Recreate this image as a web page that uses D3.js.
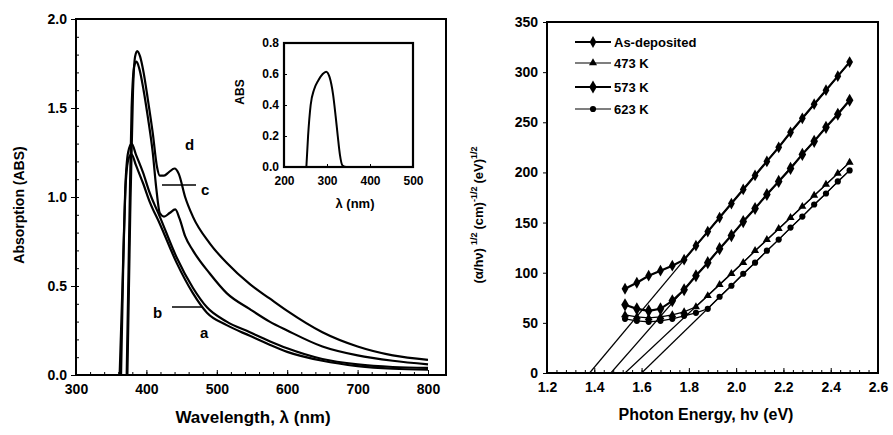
<!DOCTYPE html>
<html>
<head>
<meta charset="utf-8">
<script src="https://cdn.jsdelivr.net/npm/d3@7"></script>
<style>
  body { margin: 0; background: #fff; }
  svg text { font-family: "Liberation Sans", Arial, sans-serif; font-weight: bold; fill: #000; }
  .axis path, .axis line { stroke: #000; }
  .axis .domain { stroke-width: 2; }
</style>
</head>
<body>
<svg id="chart" width="893" height="435"></svg>
<script>
// left panel: absorption spectra, [wavelength nm, ABS]
const curveA = [[364,0],[367,0.6],[371,1.1],[375,1.22],[379,1.24],[385,1.18],[395,1.08],[405,0.97],[419,0.85],[443,0.63],[466,0.46],[486,0.35],[514,0.28],[547,0.22],[575,0.17],[600,0.13],[650,0.08],[700,0.05],[750,0.035],[800,0.03]]
const curveB = [[362,0],[366,0.5],[370,1.05],[374,1.25],[379,1.3],[385,1.24],[395,1.14],[405,1.02],[419,0.89],[443,0.66],[466,0.49],[486,0.38],[514,0.3],[547,0.24],[575,0.19],[600,0.15],[650,0.09],[700,0.06],[750,0.045],[800,0.04]]
const curveC = [[372,0],[376,0.9],[379,1.5],[383,1.74],[386,1.76],[390,1.72],[396,1.6],[402,1.45],[409,1.25],[414,1.05],[419,0.91],[425,0.89],[433,0.91],[441,0.93],[447,0.88],[455,0.78],[466,0.7],[490,0.57],[514,0.46],[547,0.37],[575,0.3],[600,0.25],[650,0.16],[700,0.11],[750,0.08],[800,0.06]]
const curveD = [[373,0],[377,0.9],[381,1.6],[384,1.79],[387,1.82],[391,1.79],[396,1.7],[402,1.55],[409,1.36],[415,1.17],[419,1.12],[425,1.12],[432,1.14],[440,1.16],[446,1.13],[455,1.0],[466,0.89],[490,0.74],[514,0.63],[547,0.51],[575,0.43],[600,0.36],[650,0.24],[700,0.16],[750,0.11],[800,0.085]]
const curveLabels = ['a', 'b', 'c', 'd']

// inset spectrum
const insetCurve = [[252,0],[256,0.2],[262,0.4],[270,0.5],[280,0.56],[290,0.6],[298,0.615],[306,0.58],[314,0.47],[320,0.33],[325,0.2],[330,0.08],[336,0.01],[345,0],[500,0]]

// right panel: Tauc plot
const energies = [1.53,1.58,1.63,1.68,1.73,1.78,1.83,1.88,1.93,1.98,2.03,2.08,2.13,2.18,2.23,2.28,2.33,2.38,2.43,2.48]
const asDeposited = [84,90,97,102,107,113,127,141,155,169,183,197,211,225,240,254,268,282,296,310]
const k473 = [58,56,55,56,58,61,66,77,88,99,110,122,133,144,155,166,177,188,199,210]
const k573 = [68,64,62,64,72,83,97,110,124,137,151,164,178,191,204,218,231,245,258,272]
const k623 = [54,52,51,52,54,57,60,64,76,87,99,110,122,133,145,156,168,179,191,202]
const seriesNames = ['As-deposited', '473 K', '573 K', '623 K']
const fitIntercepts = [1.38, 1.53, 1.47, 1.60]
const fitEnds = [310, 210, 272, 202]

const svg = d3.select('#chart')

// ---------- left panel ----------
const xL = d3.scaleLinear([300, 800], [76, 428])
const yL = d3.scaleLinear([0, 2], [375, 19])
const leftRight = 446

svg.append('rect').attr('x', 76).attr('y', 19).attr('width', leftRight - 76).attr('height', 356)
  .attr('fill', 'none').attr('stroke', '#000').attr('stroke-width', 2)

svg.append('g').attr('class', 'axis').attr('transform', 'translate(0,375)')
  .call(d3.axisBottom(xL).tickValues(d3.range(300, 801, 20)).tickSize(-3).tickFormat(''))
svg.append('g').attr('class', 'axis').attr('transform', 'translate(0,375)')
  .call(d3.axisBottom(xL).tickValues(d3.range(300, 801, 100)).tickSize(-5).tickPadding(9).tickFormat(d3.format('d')))
  .call(g => g.selectAll('text').attr('font-size', 14))
svg.append('g').attr('class', 'axis').attr('transform', 'translate(76,0)')
  .call(d3.axisRight(yL).tickValues(d3.range(0, 2.01, 0.1)).tickSize(3).tickFormat(''))
svg.append('g').attr('class', 'axis').attr('transform', 'translate(76,0)')
  .call(d3.axisLeft(yL).ticks(4).tickSize(5).tickPadding(4).tickFormat(d3.format('.1f')))
  .call(g => g.selectAll('text').attr('font-size', 14))
svg.selectAll('.axis .domain').remove()

const lineL = d3.line().x(d => xL(d[0])).y(d => yL(d[1])).curve(d3.curveMonotoneX)
;[curveA, curveB, curveC, curveD].forEach(c => {
  svg.append('path').attr('d', lineL(c)).attr('fill', 'none').attr('stroke', '#000').attr('stroke-width', 2.2)
})

// curve labels with leader lines
svg.append('text').attr('x', 185).attr('y', 150).attr('font-size', 15).text(curveLabels[3])
svg.append('line').attr('x1', 162).attr('x2', 196).attr('y1', 185).attr('y2', 185).attr('stroke', '#000').attr('stroke-width', 1.5)
svg.append('text').attr('x', 201).attr('y', 195).attr('font-size', 15).text(curveLabels[2])
svg.append('line').attr('x1', 172).attr('x2', 202).attr('y1', 307).attr('y2', 307).attr('stroke', '#000').attr('stroke-width', 1.5)
svg.append('text').attr('x', 153).attr('y', 318).attr('font-size', 15).text(curveLabels[1])
svg.append('text').attr('x', 200).attr('y', 338).attr('font-size', 15).text(curveLabels[0])

svg.append('text').attr('transform', 'translate(24,205) rotate(-90)').attr('text-anchor', 'middle')
  .attr('font-size', 14).text('Absorption (ABS)')
svg.append('text').attr('x', 253).attr('y', 423).attr('text-anchor', 'middle')
  .attr('font-size', 17).text('Wavelength, λ (nm)')

// inset
const xI = d3.scaleLinear([200, 500], [284, 413])
const yI = d3.scaleLinear([0, 0.8], [167, 43])
svg.append('rect').attr('x', 284).attr('y', 43).attr('width', 129).attr('height', 124)
  .attr('fill', '#fff').attr('stroke', '#000').attr('stroke-width', 2.2)
svg.append('g').attr('class', 'axis').attr('transform', 'translate(0,167)')
  .call(d3.axisBottom(xI).tickValues([200, 300, 400, 500]).tickSize(-3).tickPadding(9).tickFormat(d3.format('d')))
  .call(g => g.selectAll('text').attr('font-size', 12))
svg.append('g').attr('class', 'axis').attr('transform', 'translate(284,0)')
  .call(d3.axisLeft(yI).tickValues([0, 0.2, 0.4, 0.6, 0.8]).tickSize(-3).tickPadding(5).tickFormat(d3.format('.1f')))
  .call(g => g.selectAll('text').attr('font-size', 12))
svg.selectAll('.axis .domain').remove()
const lineI = d3.line().x(d => xI(d[0])).y(d => yI(d[1])).curve(d3.curveMonotoneX)
svg.append('path').attr('d', lineI(insetCurve)).attr('fill', 'none').attr('stroke', '#000').attr('stroke-width', 2)
svg.append('text').attr('transform', 'translate(244,92) rotate(-90)').attr('text-anchor', 'middle')
  .attr('font-size', 12).text('ABS')
svg.append('text').attr('x', 355).attr('y', 208).attr('text-anchor', 'middle')
  .attr('font-size', 13).text('λ (nm)')

// ---------- right panel ----------
const xR = d3.scaleLinear([1.2, 2.6], [547, 878])
const yR = d3.scaleLinear([0, 350], [373, 22])

svg.append('rect').attr('x', 547).attr('y', 22).attr('width', 331).attr('height', 351)
  .attr('fill', 'none').attr('stroke', '#000').attr('stroke-width', 2)
svg.append('g').attr('class', 'axis').attr('transform', 'translate(0,373)')
  .call(d3.axisBottom(xR).tickValues(d3.range(1.2, 2.601, 0.04)).tickSize(-3).tickFormat(''))
svg.append('g').attr('class', 'axis').attr('transform', 'translate(0,373)')
  .call(d3.axisBottom(xR).tickValues(d3.range(1.2, 2.601, 0.2)).tickSize(-5).tickPadding(9).tickFormat(d3.format('.1f')))
  .call(g => g.selectAll('text').attr('font-size', 14))
svg.append('g').attr('class', 'axis').attr('transform', 'translate(547,0)')
  .call(d3.axisLeft(yR).ticks(7).tickSize(4).tickPadding(5))
  .call(g => g.selectAll('text').attr('font-size', 14))
svg.selectAll('.axis .domain').remove()

// fitted lines
fitIntercepts.forEach((e0, i) => {
  svg.append('line').attr('x1', xR(e0)).attr('y1', yR(0))
    .attr('x2', xR(energies[energies.length - 1])).attr('y2', yR(fitEnds[i]))
    .attr('stroke', '#000').attr('stroke-width', 1.2)
})

const styles = [
  { sym: d3.symbolDiamond, size: 40, w: 2.2 },
  { sym: d3.symbolTriangle, size: 28, w: 1.2 },
  { sym: d3.symbolDiamond, size: 50, w: 2.2 },
  { sym: d3.symbolCircle, size: 30, w: 1.2 }
]
const lineR = d3.line().x(d => xR(d[0])).y(d => yR(d[1]))
;[asDeposited, k473, k573, k623].forEach((vals, i) => {
  const pts = energies.map((e, j) => [e, vals[j]])
  svg.append('path').attr('d', lineR(pts)).attr('fill', 'none').attr('stroke', '#000').attr('stroke-width', styles[i].w)
  svg.append('g').selectAll('path').data(pts).join('path')
    .attr('transform', d => `translate(${xR(d[0])},${yR(d[1])})`)
    .attr('d', d3.symbol(styles[i].sym, styles[i].size)).attr('fill', '#000')
})

// legend
const legendY = [42, 63, 87, 109]
seriesNames.forEach((name, i) => {
  const g = svg.append('g').attr('transform', `translate(575,${legendY[i]})`)
  g.append('line').attr('x1', 0).attr('x2', 36).attr('stroke', '#000').attr('stroke-width', styles[i].w)
  g.append('path').attr('transform', 'translate(18,0)').attr('d', d3.symbol(styles[i].sym, styles[i].size)).attr('fill', '#000')
  g.append('text').attr('x', 39).attr('y', 5).attr('font-size', 13).text(name)
})

// axis titles
const yt = svg.append('text').attr('transform', 'translate(483,215) rotate(-90)').attr('text-anchor', 'middle').attr('font-size', 13)
yt.append('tspan').text('(α/hν)')
yt.append('tspan').attr('font-size', 9).attr('dy', -6).attr('dx', 3).text('1/2')
yt.append('tspan').attr('dy', 6).attr('dx', 3).text('(cm)')
yt.append('tspan').attr('font-size', 9).attr('dy', -6).text('-1/2')
yt.append('tspan').attr('dy', 6).attr('dx', 3).text('(eV)')
yt.append('tspan').attr('font-size', 9).attr('dy', -6).text('1/2')

svg.append('text').attr('x', 706).attr('y', 420).attr('text-anchor', 'middle')
  .attr('font-size', 16).text('Photon Energy, hν (eV)')
</script>
</body>
</html>
